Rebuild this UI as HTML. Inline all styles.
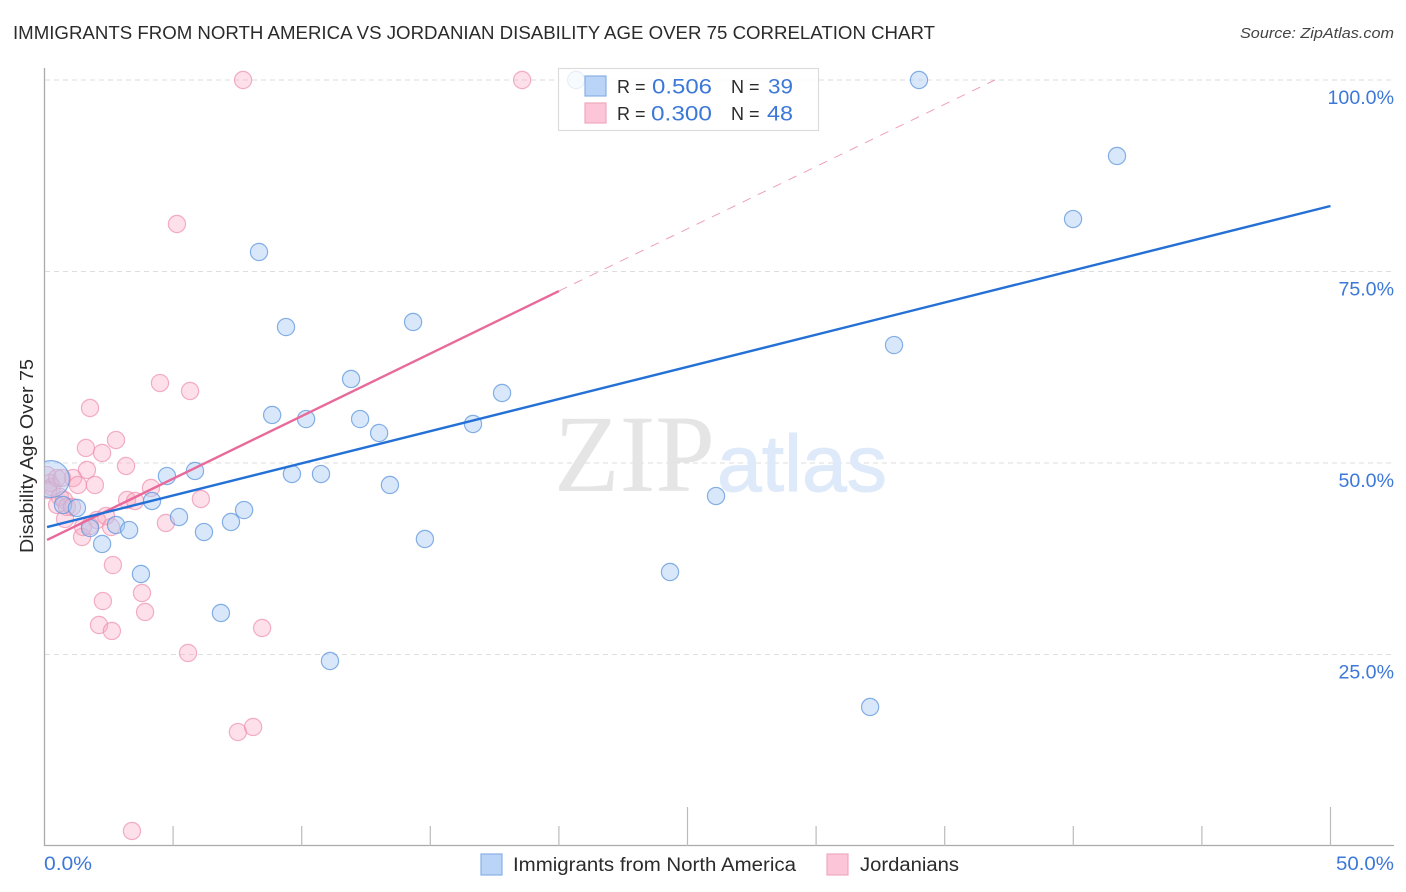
<!DOCTYPE html>
<html lang="en">
<head>
<meta charset="utf-8">
<title>Immigrants from North America vs Jordanian Disability Age Over 75 Correlation Chart</title>
<style>
html,body{margin:0;padding:0;background:#fff;width:1406px;height:892px;overflow:hidden}
svg{display:block;font-family:"Liberation Sans",sans-serif}
</style>
</head>
<body>
<svg id="chart" width="1406" height="892" viewBox="0 0 1406 892" xmlns="http://www.w3.org/2000/svg">
  <defs>
    <clipPath id="plot-clip"><rect x="44.5" y="60" width="1350" height="786"/></clipPath>
  </defs>
  <rect x="0" y="0" width="1406" height="892" fill="#ffffff"/>
  <text x="13" y="39" font-size="18.5" fill="#2b2b2b" textLength="922" lengthAdjust="spacingAndGlyphs">IMMIGRANTS FROM NORTH AMERICA VS JORDANIAN DISABILITY AGE OVER 75 CORRELATION CHART</text>
  <text x="1394" y="38" font-size="15" font-style="italic" fill="#444" text-anchor="end" textLength="154" lengthAdjust="spacingAndGlyphs">Source: ZipAtlas.com</text>
  <g id="grid"></g>
  <g>
    <text x="554" y="491" font-family="'Liberation Serif',serif" font-size="110" fill="#e5e5e5" textLength="161" lengthAdjust="spacingAndGlyphs">ZIP</text>
    <text x="717" y="491" font-size="80" fill="#deeafa" stroke="#deeafa" stroke-width="1" textLength="170" lengthAdjust="spacingAndGlyphs">atlas</text>
  </g>
  <g id="axes"></g>
  <g clip-path="url(#plot-clip)">
    <g id="pink-points"></g>
    <g id="blue-points"></g>
  </g>
  <g id="trends"></g>
  <g>
    <rect x="558.5" y="68.5" width="260" height="62" fill="#ffffff" fill-opacity="0.8" stroke="#dcdcdc" stroke-width="1.2"/>
    <rect x="585" y="76" width="21" height="20" fill="#b9d4f7" stroke="#8ab0e6" stroke-width="1.2"/>
    <rect x="585" y="103" width="21" height="20" fill="#fcc6d8" stroke="#f0a9bf" stroke-width="1.2"/>
    <text x="617" y="93" font-size="18" fill="#2b2b2b">R =</text>
    <text x="652" y="93.5" font-size="21" fill="#3c78d8" textLength="60" lengthAdjust="spacingAndGlyphs">0.506</text>
    <text x="731" y="93" font-size="18" fill="#2b2b2b">N =</text>
    <text x="768" y="93.5" font-size="21" fill="#3c78d8" textLength="25" lengthAdjust="spacingAndGlyphs">39</text>
    <text x="617" y="120" font-size="18" fill="#2b2b2b">R =</text>
    <text x="651" y="120.5" font-size="21" fill="#3c78d8" textLength="61" lengthAdjust="spacingAndGlyphs">0.300</text>
    <text x="731" y="120" font-size="18" fill="#2b2b2b">N =</text>
    <text x="767" y="120.5" font-size="21" fill="#3c78d8" textLength="26" lengthAdjust="spacingAndGlyphs">48</text>
  </g>
  <text transform="translate(33,553) rotate(-90)" font-size="18" fill="#2b2b2b" textLength="194" lengthAdjust="spacingAndGlyphs">Disability Age Over 75</text>
  <g id="tick-labels"></g>
  <g>
    <rect x="481" y="854" width="21" height="21" fill="#b9d4f7" stroke="#8ab0e6" stroke-width="1.2"/>
    <text x="513" y="871" font-size="19" fill="#2b2b2b" textLength="283" lengthAdjust="spacingAndGlyphs">Immigrants from North America</text>
    <rect x="827" y="854" width="21" height="21" fill="#fcc6d8" stroke="#f0a9bf" stroke-width="1.2"/>
    <text x="860" y="871" font-size="19" fill="#2b2b2b" textLength="99" lengthAdjust="spacingAndGlyphs">Jordanians</text>
  </g>
</svg>
<script>
const blueX = [0.25,0.72,1.26,1.77,2.78,3.29,2.24,3.75,4.18,4.76,5.23,5.85,6.20,6.86,7.25,7.76,8.34,8.85,9.39,9.62,10.17,10.75,11.10,11.92,12.27,13.01,13.43,14.33,14.79,16.66,17.79,20.67,24.32,26.11,32.10,33.03,34.00,39.99,41.70];
const blueY = [47.9,44.52,44.13,41.51,41.91,41.25,39.43,35.51,45.04,48.30,42.95,48.96,40.99,30.42,42.30,43.86,77.55,56.27,67.75,48.56,55.74,48.56,24.15,60.97,55.74,53.92,47.13,68.41,40.08,55.09,59.14,100,35.77,45.69,18.15,65.40,100,81.85,90.08];
const blueWeight = [4.6,1,1,1,1,1,1,1,1,1,1,1,1,1,1,1,1,1,1,1,1,1,1,1,1,1,1,1,1,1,1,1,1,1,1,1,1,1,1];
const pinkX = [7.72,18.57,5.15,4.49,5.66,1.77,2.78,1.61,2.24,3.17,1.65,1.11,1.30,1.96,3.21,3.52,4.14,6.08,4.72,2.04,2.39,2.59,1.46,1.50,2.66,3.79,3.91,2.27,2.12,2.62,8.46,5.58,7.52,8.11,3.40,0.10,0.21,0.29,0.14,0.49,0.68,0.60,0.49,0.76,0.87,1.07,0.80,1.77];
const pinkY = [100,100,81.20,60.44,59.40,57.18,53.00,51.96,51.31,49.61,49.09,48.04,47.13,47.13,45.17,45.04,46.74,45.30,42.17,42.56,43.08,41.64,40.34,41.64,36.68,33.03,30.55,31.98,28.85,28.07,28.46,25.20,14.88,15.54,1.96,48.43,47.39,46.87,46.48,48.04,48.04,45.56,44.52,45.17,44.26,44.26,42.69,41.77];
const blueTrendX = [0.1,50];
const blueTrendY = [41.64,83.55];
const pinkTrendX = [0.1,20];
const pinkTrendY = [39.95,72.45];
const pinkDashX = [20,36.95];
const pinkDashY = [72.45,100];
const yTicks = [25,50,75,100];
const yTickLabels = ['25.0%','50.0%','75.0%','100.0%'];
const xTicks = [0,5,10,15,20,25,30,35,40,45,50];
const xMajorTicks = [25,50];

const NS = 'http://www.w3.org/2000/svg';
const xScale = v => 44.5 + v * 25.72;
const yScale = v => 846 - v * 7.66;
const mk = (parent, tag, attrs) => {
  const el = document.createElementNS(NS, tag);
  for (const k in attrs) el.setAttribute(k, attrs[k]);
  document.getElementById(parent).appendChild(el);
  return el;
};

yTicks.forEach((t, i) => {
  const g = mk('grid', 'line', {x1: 45, x2: 1394, y1: yScale(t), y2: yScale(t), stroke: '#dddddd', 'stroke-width': 1, 'stroke-dasharray': '5 4'});
  
  
  const lab = mk('tick-labels', 'text', {x: 1394, y: yScale(t) + 24, 'font-size': 19.6, fill: '#3c78d8', 'text-anchor': 'end'});
  
  
  lab.textContent = yTickLabels[i];
});

const yAxis = mk('axes', 'line', {x1: 44.5, x2: 44.5, y1: 68, y2: 846, stroke: '#aaaaaa', 'stroke-width': 1.3});


const xAxis = mk('axes', 'line', {x1: 44, x2: 1394, y1: 845.5, y2: 845.5, stroke: '#aaaaaa', 'stroke-width': 1.3});


xTicks.slice(1).forEach(t => {
  const tk = mk('axes', 'line', {x1: xScale(t), x2: xScale(t), y1: xMajorTicks.includes(t) ? 807 : 826, y2: 846, stroke: '#bbbbbb', 'stroke-width': 1.2});
  
  
});

const x0 = mk('tick-labels', 'text', {x: 44, y: 870, 'font-size': 19.6, fill: '#3c78d8', textLength: 48, lengthAdjust: 'spacingAndGlyphs'});


x0.textContent = '0.0%';
const x1 = mk('tick-labels', 'text', {x: 1336, y: 870, 'font-size': 19.6, fill: '#3c78d8', textLength: 58, lengthAdjust: 'spacingAndGlyphs'});


x1.textContent = '50.0%';

pinkX.forEach((v, i) => {
  const c = mk('pink-points', 'circle', {cx: xScale(v), cy: yScale(pinkY[i]), r: 8.6, fill: '#f9a8c2', 'fill-opacity': 0.36, stroke: '#ee8fae', 'stroke-opacity': 0.7, 'stroke-width': 1.2});
  
  
});
blueX.forEach((v, i) => {
  const c = mk('blue-points', 'circle', {cx: xScale(v), cy: yScale(blueY[i]), r: 8.6 * Math.sqrt(blueWeight[i]), fill: '#a9ccf5', 'fill-opacity': 0.45, stroke: '#5f95dd', 'stroke-opacity': 0.75, 'stroke-width': 1.2});
  
  
});

const dash = mk('trends', 'line', {x1: xScale(pinkDashX[0]), y1: yScale(pinkDashY[0]), x2: xScale(pinkDashX[1]), y2: yScale(pinkDashY[1]), stroke: '#e8769f', 'stroke-width': 1, 'stroke-dasharray': '9 8', 'stroke-opacity': 0.7});


const pinkLine = mk('trends', 'line', {x1: xScale(pinkTrendX[0]), y1: yScale(pinkTrendY[0]), x2: xScale(pinkTrendX[1]), y2: yScale(pinkTrendY[1]), stroke: '#e8699a', 'stroke-width': 2.4});


const blueLine = mk('trends', 'line', {x1: xScale(blueTrendX[0]), y1: yScale(blueTrendY[0]), x2: xScale(blueTrendX[1]), y2: yScale(blueTrendY[1]), stroke: '#2470d6', 'stroke-width': 2.4});


</script>
</body>
</html>
